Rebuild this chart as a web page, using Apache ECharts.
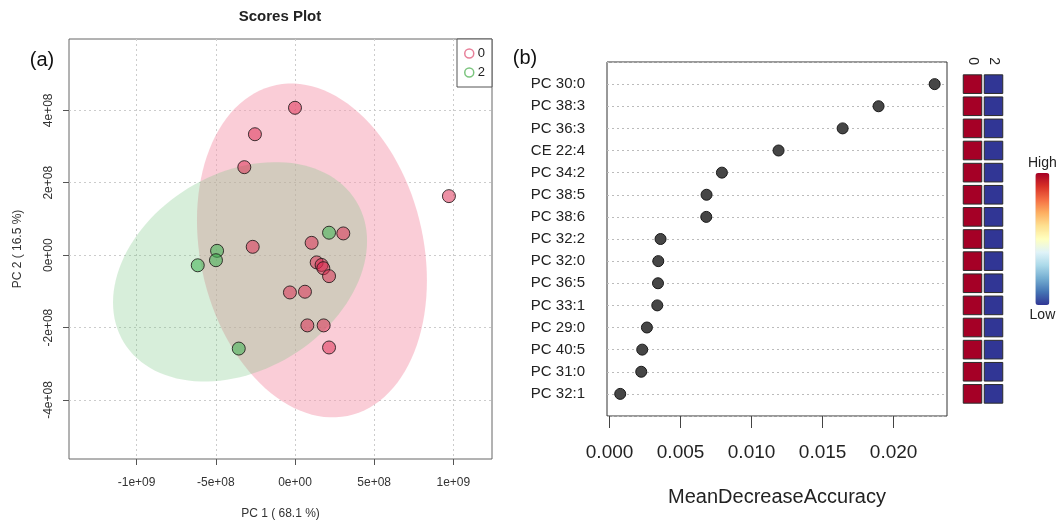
<!DOCTYPE html>
<html>
<head>
<meta charset="utf-8">
<script src="https://cdn.jsdelivr.net/npm/echarts@6/dist/echarts.min.js"></script>
<style>
  html, body { margin: 0; padding: 0; background: #fff; }
  #chart { width: 1057px; height: 525px; }
</style>
</head>
<body>
<div id="chart"></div>
<script>
// scores plot (a): PC1 / PC2 per sample
var group0X = [0, -2.53e8, -3.2e8, 9.72e8, 3.05e8, 1.05e8, -2.67e8, 1.37e8, 1.68e8, 1.79e8, 2.15e8, -0.32e8, 0.63e8, 0.78e8, 1.81e8, 2.15e8];
var group0Y = [4.07e8, 3.34e8, 2.43e8, 1.63e8, 0.6e8, 0.34e8, 0.23e8, -0.2e8, -0.27e8, -0.36e8, -0.58e8, -1.03e8, -1.01e8, -1.94e8, -1.94e8, -2.55e8];
var group2X = [2.15e8, -4.92e8, -4.99e8, -6.14e8, -3.55e8];
var group2Y = [0.62e8, 0.12e8, -0.14e8, -0.28e8, -2.58e8];

// confidence ellipses: centre x, centre y, half width, half height, correlation
var ellipse0 = [1.07e8, 0.13e8, 7.26e8, 4.61e8, -0.18];
var ellipse2 = [-3.47e8, -0.46e8, 8.02e8, 3.03e8, 0.28];

var pcXTicks = [-1e9, -5e8, 0, 5e8, 1e9];
var pcYTicks = [-4e8, -2e8, 0, 2e8, 4e8];

// random forest importance (b)
var lipids = ['PC 30:0', 'PC 38:3', 'PC 36:3', 'CE 22:4', 'PC 34:2', 'PC 38:5', 'PC 38:6', 'PC 32:2',
              'PC 32:0', 'PC 36:5', 'PC 33:1', 'PC 29:0', 'PC 40:5', 'PC 31:0', 'PC 32:1'];
var meanDecreaseAcc = [0.02289, 0.01894, 0.01641, 0.01190, 0.00791, 0.00683, 0.00681, 0.00359,
                       0.00343, 0.00341, 0.00336, 0.00263, 0.00230, 0.00223, 0.00075];
var accTicks = [0, 0.005, 0.010, 0.015, 0.020];

// heat cells: relative level in group 0 and group 2
var heatGroups = ['0', '2'];
var level0 = [1, 1, 1, 1, 1, 1, 1, 1, 1, 1, 1, 1, 1, 1, 1];
var level2 = [-1, -1, -1, -1, -1, -1, -1, -1, -1, -1, -1, -1, -1, -1, -1];

var FONT = 'Liberation Sans';

var chart = echarts.init(document.getElementById('chart'));

function sciLabel(v) {
    if (v === 0) return '0e+00';
    var e = Math.floor(Math.log10(Math.abs(v)) + 1e-9);
    var m = Math.round(v / Math.pow(10, e));
    return m + 'e' + (e < 0 ? '-' : '+') + (Math.abs(e) < 10 ? '0' : '') + Math.abs(e);
}

function zip(xs, ys) {
    return xs.map(function(x, i) { return [x, ys[i]]; });
}

function ellipseItem(params, api) {
    var cx = api.value(0), cy = api.value(1), w = api.value(2), h = api.value(3), r = api.value(4);
    var pts = [];
    for (var k = 0; k < 120; k++) {
        var t = k / 120 * Math.PI * 2;
        var x = cx + w * Math.cos(t);
        var y = cy + h * (r * Math.cos(t) + Math.sqrt(1 - r * r) * Math.sin(t));
        pts.push(api.coord([x, y]));
    }
    return {
        type: 'polygon',
        shape: { points: pts },
        style: { fill: api.style().fill }
    };
}

var heatData = [];
level0.forEach(function(v, i) { heatData.push([0, i + 1, v]); });
level2.forEach(function(v, i) { heatData.push([1, i + 1, v]); });

var dotData = meanDecreaseAcc.map(function(v, i) { return [v, i + 1]; });

var option = {
    backgroundColor: '#fff',
    animation: false,
    textStyle: { fontFamily: FONT },
    graphic: [
        { type: 'text', x: 280, y: 17, style: { text: 'Scores Plot', font: 'bold 15px ' + FONT, fill: '#222', align: 'center', verticalAlign: 'middle' } },
        { type: 'text', x: 42, y: 60, style: { text: '(a)', font: '20px ' + FONT, fill: '#111', align: 'center', verticalAlign: 'middle' } },
        { type: 'text', x: 525, y: 58, style: { text: '(b)', font: '20px ' + FONT, fill: '#111', align: 'center', verticalAlign: 'middle' } }
    ],
    legend: {
        left: 457, top: 39,
        orient: 'vertical',
        padding: [8, 7, 8, 7],
        itemWidth: 9, itemHeight: 9, itemGap: 6,
        borderColor: '#555', borderWidth: 1,
        backgroundColor: '#fff',
        textStyle: { fontSize: 13, color: '#222', padding: [0, 0, 0, -1] },
        data: [
            { name: '0', icon: 'circle', itemStyle: { color: '#fff', borderColor: '#E8809A', borderWidth: 1.5, opacity: 1 } },
            { name: '2', icon: 'circle', itemStyle: { color: '#fff', borderColor: '#7CC57F', borderWidth: 1.5, opacity: 1 } }
        ]
    },
    visualMap: {
        type: 'continuous',
        seriesIndex: 5,
        dimension: 2,
        min: -1, max: 1,
        left: 1013, top: 141,
        itemWidth: 14, itemHeight: 132,
        text: ['High', 'Low'],
        textGap: 3,
        calculable: false,
        textStyle: { fontSize: 14, color: '#222' },
        inRange: { color: ['#313695', '#4575b4', '#74add1', '#abd9e9', '#e0f3f8', '#ffffbf', '#fee090', '#fdae61', '#f46d43', '#d73027', '#a50026'] }
    },
    grid: [
        { left: 69, top: 39, width: 423, height: 423, show: true, borderColor: '#666', borderWidth: 1, backgroundColor: 'transparent' },
        { left: 607, top: 62, width: 340, height: 354, show: true, borderColor: '#333', borderWidth: 1, backgroundColor: 'transparent' },
        { left: 962, top: 62, width: 42, height: 354 }
    ],
    xAxis: [
        {
            gridIndex: 0, type: 'value', min: -1.427e9, max: 1.244e9,
            name: 'PC 1 ( 68.1 %)', nameLocation: 'middle', nameGap: 49,
            nameTextStyle: { fontSize: 12, color: '#333' },
            axisLine: { show: false, onZero: false },
            axisTick: { show: true, length: 6, customValues: pcXTicks, lineStyle: { color: '#555' } },
            axisLabel: { customValues: pcXTicks, formatter: sciLabel, fontSize: 12, color: '#333', margin: 18 },
            splitLine: { show: true, lineStyle: { color: '#ccc', type: [2, 3] } }
        },
        {
            gridIndex: 1, type: 'value', min: -0.00018, max: 0.02376,
            name: 'MeanDecreaseAccuracy', nameLocation: 'middle', nameGap: 71,
            nameTextStyle: { fontSize: 20, color: '#222' },
            axisLine: { show: false, onZero: false },
            axisTick: { show: true, length: 12, customValues: accTicks, lineStyle: { color: '#444' } },
            axisLabel: { customValues: accTicks, formatter: function(v) { return v.toFixed(3); }, fontSize: 19, color: '#222', margin: 27 },
            splitLine: { show: false }
        },
        {
            gridIndex: 2, type: 'category', data: heatGroups, position: 'top', offset: -13,
            axisLine: { show: false, onZero: false }, axisTick: { show: false },
            axisLabel: { rotate: 90, fontSize: 14, color: '#222', margin: 10 }
        }
    ],
    yAxis: [
        {
            gridIndex: 0, type: 'value', min: -5.63e8, max: 5.97e8,
            name: 'PC 2 ( 16.5 %)', nameLocation: 'middle', nameGap: 45,
            nameTextStyle: { fontSize: 12, color: '#333' },
            axisLine: { show: false, onZero: false },
            axisTick: { show: true, length: 6, customValues: pcYTicks, lineStyle: { color: '#555' } },
            axisLabel: { customValues: pcYTicks, formatter: sciLabel, rotate: 90, fontSize: 12, color: '#333', margin: 14 },
            splitLine: { show: true, lineStyle: { color: '#ccc', type: [2, 3] } }
        },
        {
            gridIndex: 1, type: 'value', min: 0, max: 16, interval: 1, inverse: true,
            axisLine: { show: false, onZero: false }, axisTick: { show: false },
            axisLabel: {
                fontSize: 15, color: '#222', margin: 22,
                formatter: function(v) { return lipids[v - 1] || ''; }
            },
            splitLine: { show: true, lineStyle: { color: '#bbb', type: [2, 3] } }
        },
        {
            gridIndex: 2, type: 'value', min: 0, max: 16, inverse: true, show: false
        }
    ],
    series: [
        {
            name: 'ellipse0', type: 'custom', xAxisIndex: 0, yAxisIndex: 0,
            renderItem: ellipseItem, itemStyle: { color: 'rgba(245,155,175,0.5)' },
            data: [ellipse0], z: 1, silent: true
        },
        {
            name: 'ellipse2', type: 'custom', xAxisIndex: 0, yAxisIndex: 0,
            renderItem: ellipseItem, itemStyle: { color: 'rgba(122,198,132,0.3)' },
            data: [ellipse2], z: 1, silent: true
        },
        {
            name: '0', type: 'scatter', xAxisIndex: 0, yAxisIndex: 0,
            symbolSize: 13, z: 3,
            itemStyle: { color: 'rgba(220,35,75,0.5)', borderColor: 'rgba(30,25,25,0.85)', borderWidth: 1, opacity: 1 },
            data: zip(group0X, group0Y)
        },
        {
            name: '2', type: 'scatter', xAxisIndex: 0, yAxisIndex: 0,
            symbolSize: 13, z: 3,
            itemStyle: { color: 'rgba(60,178,80,0.55)', borderColor: 'rgba(30,25,25,0.85)', borderWidth: 1, opacity: 1 },
            data: zip(group2X, group2Y)
        },
        {
            name: 'importance', type: 'scatter', xAxisIndex: 1, yAxisIndex: 1,
            symbolSize: 11, z: 3,
            itemStyle: { color: '#464646', borderColor: '#1a1a1a', borderWidth: 1, opacity: 1 },
            data: dotData
        },
        {
            name: 'heat', type: 'custom', xAxisIndex: 2, yAxisIndex: 2,
            renderItem: function(params, api) {
                var c = api.coord([api.value(0), api.value(1)]);
                var s = api.size([1, 1]);
                var w = s[0] - 2.5, h = s[1] - 3.5;
                return {
                    type: 'rect',
                    shape: { x: c[0] - w / 2, y: c[1] - h / 2, width: w, height: h },
                    style: { fill: api.visual('color'), stroke: '#2a2a2a', lineWidth: 1 }
                };
            },
            data: heatData
        }
    ]
};

chart.setOption(option);
</script>
</body>
</html>
